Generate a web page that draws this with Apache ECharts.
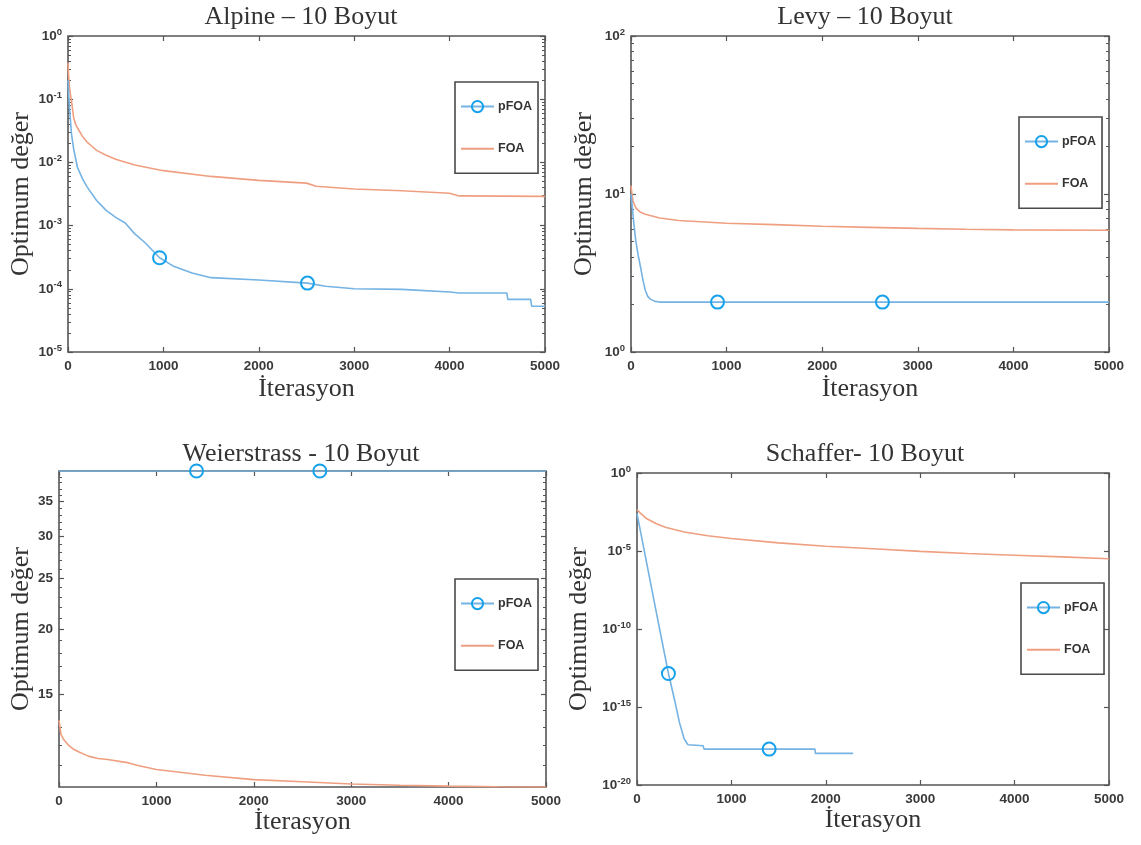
<!DOCTYPE html>
<html>
<head>
<meta charset="utf-8">
<script src="https://cdn.jsdelivr.net/npm/echarts@6/dist/echarts.min.js"></script>
<style>
  html, body { margin: 0; padding: 0; background: #fff; }
  #chart { width: 1141px; height: 845px; }
</style>
</head>
<body>
<div id="chart"></div>
<script>
// ---- Convergence data (iteration, best value) ----
const xTicks = [0, 1000, 2000, 3000, 4000, 5000];

// Alpine, 10 dimensions
const alpinePfoa = [[0, 0.2], [10, 0.1], [20, 0.06], [37, 0.028], [60, 0.016], [100, 8.3e-3], [150, 5.6e-3],
  [200, 4.1e-3], [300, 2.5e-3], [400, 1.74e-3], [500, 1.35e-3], [600, 1.1e-3], [700, 7.4e-4],
  [800, 5.5e-4], [960, 3.1e-4], [1100, 2.3e-4], [1300, 1.78e-4], [1500, 1.5e-4], [2000, 1.38e-4],
  [2510, 1.23e-4], [2700, 1.1e-4], [3000, 1.0e-4], [3500, 9.8e-5], [4000, 8.9e-5], [4100, 8.6e-5],
  [4600, 8.6e-5], [4610, 6.8e-5], [4850, 6.8e-5], [4860, 5.3e-5], [5000, 5.3e-5]];
const alpineFoa = [[0, 0.38], [5, 0.25], [15, 0.16], [25, 0.12], [37, 0.093], [60, 0.05], [80, 0.04],
  [100, 0.035], [150, 0.026], [200, 0.021], [250, 0.018], [300, 0.0155], [400, 0.013], [500, 0.0112],
  [700, 9.1e-3], [1000, 7.4e-3], [1500, 6.0e-3], [2000, 5.2e-3], [2500, 4.7e-3], [2600, 4.2e-3],
  [3000, 3.8e-3], [3500, 3.55e-3], [4000, 3.25e-3], [4100, 2.95e-3], [5000, 2.9e-3]];
const alpineMarks = [960, 2510];
const alpineYTicks = [1e-5, 1e-4, 1e-3, 1e-2, 1e-1, 1];

// Levy, 10 dimensions
const levyPfoa = [[0, 10], [10, 8.7], [20, 7.5], [35, 6.1], [50, 5.07], [75, 4.1], [100, 3.44],
  [125, 2.85], [150, 2.45], [175, 2.25], [200, 2.17], [250, 2.09], [300, 2.07],
  [905, 2.07], [2630, 2.07], [5000, 2.07]];
const levyFoa = [[0, 11.3], [10, 10], [20, 9.1], [35, 8.6], [50, 8.2], [75, 7.9], [100, 7.66],
  [150, 7.45], [200, 7.3], [300, 7.05], [500, 6.79], [1000, 6.53], [1500, 6.4], [2000, 6.25],
  [2500, 6.15], [3000, 6.06], [3500, 5.98], [4000, 5.93], [5000, 5.9]];
const levyMarks = [905, 2630];
const levyYTicks = [1, 10, 100];

// Weierstrass, 10 dimensions
const weierPfoa = [[0, 40], [1412, 40], [2678, 40], [5000, 40]];
const weierFoa = [[0, 13.4], [10, 13.0], [20, 12.6], [50, 12.3], [100, 12.0], [150, 11.8], [200, 11.67],
  [300, 11.45], [400, 11.33], [500, 11.28], [700, 11.13], [800, 11.0], [1000, 10.8], [1500, 10.53],
  [2000, 10.33], [2500, 10.23], [3000, 10.13], [3500, 10.08], [4000, 10.04], [4500, 10.01], [5000, 10.0]];
const weierMarks = [1412, 2678];
const weierYTicks = [15, 20, 25, 30, 35];

// Schaffer, 10 dimensions
const schafferPfoa = [[0, 2.5e-3], [100, 2e-6], [200, 1.6e-9], [333, 1.4e-13], [400, 2.5e-15],
  [450, 1e-16], [500, 8.9e-18], [540, 3.8e-18], [700, 3.3e-18], [710, 2.0e-18], [1400, 2.0e-18],
  [1885, 2.0e-18], [1890, 1.07e-18], [2290, 1.07e-18]];
const schafferFoa = [[0, 4.5e-3], [50, 2.2e-3], [100, 1.2e-3], [200, 5.8e-4], [300, 3.3e-4],
  [500, 1.66e-4], [750, 9.5e-5], [1000, 6.3e-5], [1500, 3.3e-5], [2000, 2.0e-5], [2500, 1.4e-5],
  [3000, 9.5e-6], [3500, 6.9e-6], [4000, 5.4e-6], [4500, 4.2e-6], [5000, 3.2e-6]];
const schafferMarks = [333, 1400];
const schafferYTicks = [1e-20, 1e-15, 1e-10, 1e-5, 1];

// ---- Styling ----
const SERIF = '"Liberation Serif", "Times New Roman", serif';
const SANS = '"Liberation Sans", Arial, Helvetica, sans-serif';
const BOX = '#555555';
const LABEL = '#3a3a3a';
const TEXT = '#333333';
const BLUE_LINE = '#74b3e4';
const BLUE_MARK = '#16a1ea';
const ORANGE = '#ef9f80';

function logMinor(e0, e1) {
  const out = [];
  for (let e = e0; e < e1; e++) for (let k = 2; k <= 9; k++) out.push(+(k * Math.pow(10, e)).toPrecision(3));
  return out;
}
function linMinor(a, b, majors) {
  const out = [];
  for (let v = a; v <= b; v++) if (majors.indexOf(v) < 0) out.push(v);
  return out;
}
const powLabel = v => '{b|10}{e|' + Math.round(Math.log10(v)) + '}';
const plainLabel = v => String(v);

const panels = [
  { title: 'Alpine – 10 Boyut', cx: 301, ty: 4, grid: { left: 68, top: 36, width: 477, height: 316 },
    yMin: 1e-5, yMax: 1, majors: alpineYTicks, minors: logMinor(-5, 0), fmt: powLabel,
    pfoa: alpinePfoa, foa: alpineFoa, marks: alpineMarks, legend: { left: 455, top: 82 },
    yGap: 34, xGap: 24 },
  { title: 'Levy – 10 Boyut', cx: 865, ty: 4, grid: { left: 631, top: 36, width: 478, height: 316 },
    yMin: 1, yMax: 100, majors: levyYTicks, minors: logMinor(0, 2), fmt: powLabel,
    pfoa: levyPfoa, foa: levyFoa, marks: levyMarks, legend: { left: 1019, top: 117 },
    yGap: 34, xGap: 24 },
  { title: 'Weierstrass - 10 Boyut', cx: 301, ty: 441, grid: { left: 59, top: 471, width: 487, height: 316 },
    yMin: 10, yMax: 40, majors: weierYTicks, minors: linMinor(11, 39, weierYTicks), fmt: plainLabel,
    pfoa: weierPfoa, foa: weierFoa, marks: weierMarks, legend: { left: 455, top: 579 },
    yGap: 25, xGap: 12 },
  { title: 'Schaffer- 10 Boyut', cx: 865, ty: 441, grid: { left: 637, top: 473, width: 472, height: 312 },
    yMin: 1e-20, yMax: 1, majors: schafferYTicks, minors: [], fmt: powLabel,
    pfoa: schafferPfoa, foa: schafferFoa, marks: schafferMarks, legend: { left: 1021, top: 583 },
    yGap: 45, xGap: 12 }
];

const option = {
  animation: false,
  backgroundColor: '#ffffff',
  title: [], grid: [], xAxis: [], yAxis: [], series: [], legend: []
};

const tickLine = { color: BOX, width: 1.2 };
const labelRich = {
  b: { fontFamily: SANS, fontSize: 13.5, fontWeight: 'bold', color: LABEL },
  e: { fontFamily: SANS, fontSize: 9.5, fontWeight: 'bold', color: LABEL, padding: [0, 0, 8, 0] }
};

panels.forEach((p, i) => {
  option.title.push({
    text: p.title, left: p.cx, top: p.ty, textAlign: 'center', padding: 0,
    textStyle: { fontFamily: SERIF, fontSize: 26, fontWeight: 'normal', color: TEXT }
  });
  option.grid.push(Object.assign({ show: true, borderColor: BOX, borderWidth: 1.6, backgroundColor: '#fff' }, p.grid));

  // bottom (labelled) and top (ticks only) x axes
  const xBase = { type: 'value', gridIndex: i, min: 0, max: 5000, interval: 1000,
    axisLine: { show: false }, splitLine: { show: false } };
  const xMain = option.xAxis.length;
  option.xAxis.push(Object.assign({}, xBase, {
    position: 'bottom',
    axisTick: { inside: true, length: 5, lineStyle: tickLine },
    axisLabel: { margin: 7, fontFamily: SANS, fontSize: 13.5, fontWeight: 'bold', color: LABEL,
      customValues: xTicks, formatter: v => String(v) },
    name: 'İterasyon', nameLocation: 'middle', nameGap: p.xGap,
    nameTextStyle: { fontFamily: SERIF, fontSize: 26, color: TEXT }
  }));
  option.xAxis.push(Object.assign({}, xBase, {
    position: 'top', axisTick: { inside: true, length: 5, lineStyle: tickLine }, axisLabel: { show: false }
  }));

  // y axes: labelled left axis, then tick-only overlays on both spines
  const yBase = { type: 'log', logBase: 10, gridIndex: i, min: p.yMin, max: p.yMax,
    axisLine: { show: false }, splitLine: { show: false }, minorTick: { show: false } };
  const yMain = option.yAxis.length;
  option.yAxis.push(Object.assign({}, yBase, {
    position: 'left',
    axisTick: { show: false },
    axisLabel: { margin: 6, customValues: p.majors, formatter: p.fmt, rich: labelRich,
      fontFamily: SANS, fontSize: 13.5, fontWeight: 'bold', color: LABEL },
    name: 'Optimum değer', nameLocation: 'middle', nameGap: p.yGap,
    nameTextStyle: { fontFamily: SERIF, fontSize: 26, color: TEXT }
  }));
  ['left', 'right'].forEach(pos => {
    option.yAxis.push(Object.assign({}, yBase, {
      position: pos,
      axisTick: { inside: true, length: 5, lineStyle: tickLine, customValues: p.majors },
      axisLabel: { show: false }
    }));
    if (p.minors.length) {
      option.yAxis.push(Object.assign({}, yBase, {
        position: pos,
        axisTick: { inside: true, length: 3, lineStyle: { color: BOX, width: 1 }, customValues: p.minors },
        axisLabel: { show: false }
      }));
    }
  });

  option.series.push({
    name: 'FOA', type: 'line', xAxisIndex: xMain, yAxisIndex: yMain,
    data: p.foa, symbol: 'circle', showSymbol: false,
    itemStyle: { color: 'rgba(0,0,0,0)', borderWidth: 0 },
    lineStyle: { color: ORANGE, width: 1.6 }, silent: true, z: 3
  });
  option.series.push({
    name: 'pFOA', type: 'line', xAxisIndex: xMain, yAxisIndex: yMain,
    data: p.pfoa.map(d => p.marks.indexOf(d[0]) >= 0 ? { value: d } : { value: d, symbol: 'none' }),
    symbol: 'circle', symbolSize: 13, showSymbol: true,
    itemStyle: { color: 'rgba(255,255,255,0)', borderColor: BLUE_MARK, borderWidth: 2 },
    lineStyle: { color: BLUE_LINE, width: 1.6 }, silent: true, z: 4
  });

  option.legend.push({
    left: p.legend.left, top: p.legend.top, orient: 'vertical',
    data: ['pFOA', 'FOA'], selectedMode: false,
    backgroundColor: '#fff', borderColor: '#4a4a4a', borderWidth: 1.6, borderRadius: 0,
    padding: [18, 6, 18, 5], itemGap: 29, itemWidth: 33, itemHeight: 14,
    textStyle: { fontFamily: SANS, fontSize: 12.5, fontWeight: 'bold', color: '#333', padding: [0, 0, 0, -1] }
  });
});

const chart = echarts.init(document.getElementById('chart'), null, { renderer: 'canvas' });
chart.setOption(option);
</script>
</body>
</html>
